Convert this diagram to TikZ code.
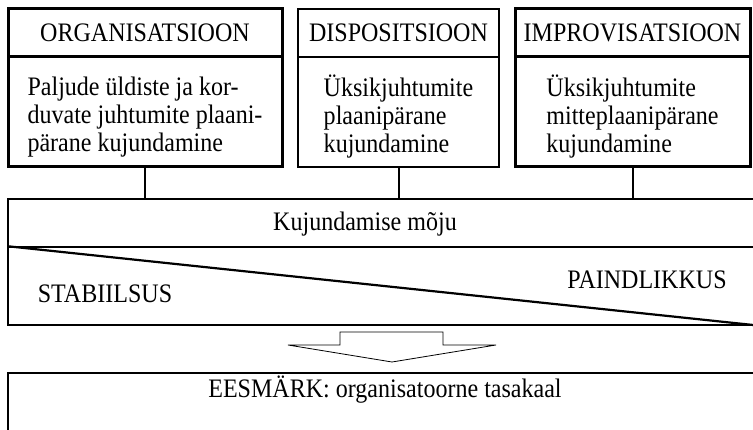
\documentclass[tikz,border=0pt]{standalone}
\usepackage{fontspec}
\setmainfont{Liberation Serif}[FakeStretch=0.9]

\tikzset{
  heavybox/.style={draw, line width=3pt},
  lightbox/.style={draw, line width=1.8pt},
  headbox/.style={minimum height=48, inner sep=0pt},
  bodybox/.style={minimum height=110, inner sep=0pt},
  bodytext/.style={align=left, inner sep=0pt, yshift=-5pt},
  band/.style={draw, line width=1.6pt, minimum width=752, inner sep=0pt},
  link/.style={line width=2pt}
}

\begin{document}
\begin{tikzpicture}[x=1pt, y=-1pt, font=\fontsize{26.7}{28}\selectfont]
    \useasboundingbox (0,0) rectangle (753,430);
    \clip (0,0) rectangle (753,430);
    % Definitions:
    \node[headbox, heavybox, minimum width=274] (orghead) at (145,33) {ORGANISATSIOON};
    \node[bodybox, heavybox, minimum width=274] (orgbody) at (145,112) {};
    \node[headbox, lightbox, minimum width=201] (disphead) at (398.5,33) {DISPOSITSIOON};
    \node[bodybox, lightbox, minimum width=201] (dispbody) at (398.5,112) {};
    \node[headbox, heavybox, minimum width=235] (imprhead) at (632.5,33) {IMPROVISATSIOON};
    \node[bodybox, heavybox, minimum width=235] (imprbody) at (632.5,112) {};
    \node[band, minimum height=48] (mojuhead) at (384,223) {};
    \node[band, minimum height=78] (mojubody) at (384,286) {};
    \node[band, minimum height=70, anchor=north] (goalbox) at (384,372) {};
    \coordinate (arrowtip) at (392,362);
    % Drawing:
    \draw[link] (orgbody.south) -- (orgbody.south |- mojuhead.north);
    \draw[link] (dispbody.south) -- (dispbody.south |- mojuhead.north);
    \draw[link] (imprbody.south) -- (imprbody.south |- mojuhead.north);
    \draw[line width=2.2pt] (mojubody.north west) -- (mojubody.south east);
    \draw[line width=0.8pt] (340,332) -- (443,332) -- (443,345) -- (496,345)
      -- (arrowtip) -- (288,345) -- (340,345) -- cycle;
    % Labels:
    \node[bodytext] (orgtext) at (orgbody)
      {Paljude üldiste ja kor-\\duvate juhtumite plaani-\\pärane kujundamine};
    \node[bodytext] (disptext) at (dispbody)
      {Üksikjuhtumite\\plaanipärane\\kujundamine};
    \node[bodytext] (imprtext) at (imprbody)
      {Üksikjuhtumite\\mitteplaanipärane\\kujundamine};
    \node (mojutext) at (365,224) {Kujundamise mõju};
    \node (stabtext) at (105,294) {STABIILSUS};
    \node (paintext) at (647,280) {PAINDLIKKUS};
    \node (goaltext) at (385,390) {EESMÄRK: organisatoorne tasakaal};
\end{tikzpicture}
\end{document}
